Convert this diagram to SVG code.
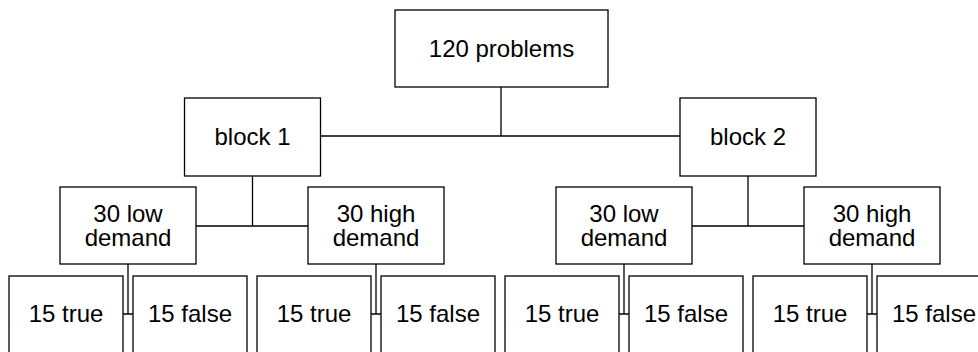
<svg xmlns="http://www.w3.org/2000/svg" width="978" height="352" viewBox="0 0 978 352">
  <style>
    .box { fill: #ffffff; stroke: #000000; stroke-width: 1.3; }
    .wire { fill: none; stroke: #000000; stroke-width: 1.3; }
    text { font-family: "Liberation Sans", Arial, sans-serif; font-size: 24px; fill: #000000; text-anchor: middle; }
  </style>
  <rect width="978" height="352" fill="#ffffff"/>

  <!-- connectors -->
  <g id="connectors" class="wire">
    <!-- root to blocks -->
    <path d="M501 87 V136 M320.5 136 H680"/>
    <!-- block 1 to demand groups -->
    <path d="M252.5 176 V226 M196 226 H308"/>
    <!-- block 2 to demand groups -->
    <path d="M748 176 V226 M692 226 H804"/>
    <!-- demand groups to true/false leaves -->
    <path d="M128 264 V314 M123 314 H133"/>
    <path d="M376 264 V314 M371 314 H381"/>
    <path d="M624 264 V314 M619 314 H629"/>
    <path d="M872 264 V314 M867 314 H877"/>
  </g>

  <g id="root">
    <rect class="box" x="395" y="10" width="213" height="77"/>
    <text x="501.5" y="57.3">120 problems</text>
  </g>

  <g id="block1">
    <rect class="box" x="184.5" y="98" width="136" height="78"/>
    <text x="252.5" y="145.3">block 1</text>
  </g>
  <g id="block2">
    <rect class="box" x="680" y="98" width="136" height="78"/>
    <text x="748" y="145.3">block 2</text>
  </g>

  <g id="b1-low">
    <rect class="box" x="60" y="187" width="136" height="77"/>
    <text x="128" y="221.7">30 low</text>
    <text x="128" y="246">demand</text>
  </g>
  <g id="b1-high">
    <rect class="box" x="308" y="187" width="136" height="77"/>
    <text x="376" y="221.7">30 high</text>
    <text x="376" y="246">demand</text>
  </g>
  <g id="b2-low">
    <rect class="box" x="556" y="187" width="136" height="77"/>
    <text x="624" y="221.7">30 low</text>
    <text x="624" y="246">demand</text>
  </g>
  <g id="b2-high">
    <rect class="box" x="804" y="187" width="136" height="77"/>
    <text x="872" y="221.7">30 high</text>
    <text x="872" y="246">demand</text>
  </g>

  <g id="b1-low-true">
    <rect class="box" x="9" y="276" width="114" height="100"/>
    <text x="66" y="321.7">15 true</text>
  </g>
  <g id="b1-low-false">
    <rect class="box" x="133" y="276" width="114" height="100"/>
    <text x="190" y="321.7">15 false</text>
  </g>
  <g id="b1-high-true">
    <rect class="box" x="257" y="276" width="114" height="100"/>
    <text x="314" y="321.7">15 true</text>
  </g>
  <g id="b1-high-false">
    <rect class="box" x="381" y="276" width="114" height="100"/>
    <text x="438" y="321.7">15 false</text>
  </g>
  <g id="b2-low-true">
    <rect class="box" x="505" y="276" width="114" height="100"/>
    <text x="562" y="321.7">15 true</text>
  </g>
  <g id="b2-low-false">
    <rect class="box" x="629" y="276" width="114" height="100"/>
    <text x="686" y="321.7">15 false</text>
  </g>
  <g id="b2-high-true">
    <rect class="box" x="753" y="276" width="114" height="100"/>
    <text x="810" y="321.7">15 true</text>
  </g>
  <g id="b2-high-false">
    <rect class="box" x="877" y="276" width="114" height="100"/>
    <text x="934" y="321.7">15 false</text>
  </g>
</svg>
